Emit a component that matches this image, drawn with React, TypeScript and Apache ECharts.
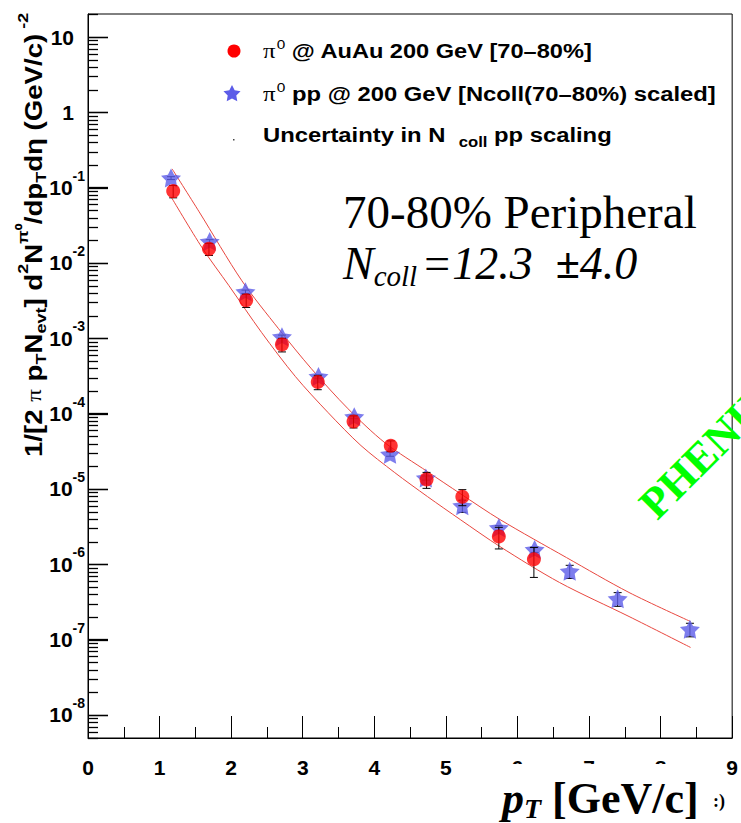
import React, { useEffect, useRef } from 'react';
import * as echarts from 'echarts';

// ---------- data ----------
const ptAuAu = [1.19, 1.69, 2.21, 2.71, 3.21, 3.71, 4.23, 4.73, 5.23, 5.74, 6.23];
const yieldAuAu = [0.09, 0.0154, 3.2e-3, 8.3e-4, 2.63e-4, 7.9e-5, 3.75e-5, 1.34e-5, 7.9e-6, 2.35e-6, 1.17e-6];
const errAuAu = [0.0167, 0.0028, 6.3e-4, 1.7e-4, 5.5e-5, 1.44e-5, 6.0e-6, 3.2e-6, 1.9e-6, 7.5e-7, 5.0e-7];

const ptPP = [1.16, 1.7, 2.2, 2.71, 3.22, 3.72, 4.22, 4.72, 5.23, 5.74, 6.24, 6.73, 7.4, 8.41];
const yieldPP = [0.134, 0.0193, 4.15e-3, 1.05e-3, 3.12e-4, 9.1e-5, 2.9e-5, 1.4e-5, 6.0e-6, 3.05e-6, 1.57e-6, 8.1e-7, 3.49e-7, 1.37e-7];
const errPP = [0.006, 0.0011, 2.2e-4, 5.5e-5, 1.7e-5, 5e-6, 1.8e-6, 9e-7, 1.1e-6, 2.2e-7, 1.3e-7, 1.6e-7, 7.2e-8, 2.8e-8];

const bandUpperPt = [1.175, 1.553, 2.15, 2.663, 3.121, 3.634, 4.147, 4.743, 5.201, 5.756, 6.685, 7.559, 8.419];
const bandUpper = [0.1775, 0.0478, 5.81e-3, 1.34e-3, 3.95e-4, 1.16e-4, 4.12e-5, 1.7e-5, 8.69e-6, 3.93e-6, 1.23e-6, 4.23e-7, 1.74e-7];
const bandLowerPt = [1.161, 1.595, 1.97, 2.427, 2.899, 3.356, 3.814, 4.286, 4.743, 5.201, 5.756, 6.588, 7.559, 8.419];
const bandLower = [0.0755, 0.0159, 4.99e-3, 1.19e-3, 3.1e-4, 1.03e-4, 3.77e-5, 1.65e-5, 7.93e-6, 3.93e-6, 1.72e-6, 5.74e-7, 2.03e-7, 7.88e-8];

const yDecadeExponents = [-8, -7, -6, -5, -4, -3, -2, -1, 0, 1];
const yMinorMultipliers = [2, 3, 4, 5, 6, 7, 8, 9];
const xTickLabels = ['0', '1', '2', '3', '4', '5', '6', '7', '8', '9'];

const legendLabels = [
  '{pi|π}{sup|0}{t| @ AuAu 200 GeV [70–80%]}',
  '{pi|π}{sup|0}{t| pp @ 200 GeV [Ncoll(70–80%) scaled]}',
  '{t|Uncertainty in N  }{sub|coll}{t| pp scaling}',
];

const Y_MIN = 4.95e-9;
const Y_MAX = 20.2;

const STAR_PTS: number[][] = [
  [0, -10], [2.939, -4.045], [9.511, -3.09], [4.755, 1.545], [5.878, 8.09],
  [0, 5], [-5.878, 8.09], [-4.755, 1.545], [-9.511, -3.09], [-2.939, -4.045],
];
const STAR_PATH = 'path://M' + STAR_PTS.map((p) => p.join(',')).join('L') + 'Z';

const SANS = '"Liberation Sans", Arial, sans-serif';
const SERIF = '"Liberation Serif", "Times New Roman", serif';

export default function App() {
  const ref = useRef<HTMLDivElement>(null);

  useEffect(() => {
    document.body.style.margin = '0';
    const chart = echarts.init(ref.current!, null, { renderer: 'svg' });

    const majorVals = yDecadeExponents.map((e) => Math.pow(10, e));
    const minorVals: number[] = [];
    for (let e = -9; e <= 1; e++) {
      yMinorMultipliers.forEach((m) => {
        const v = m * Math.pow(10, e);
        if (v > Y_MIN && v < Y_MAX) minorVals.push(v);
      });
    }
    // [x, value, tick length in px]
    const yTickData = majorVals.map((v) => [0, v, 20]).concat(minorVals.map((v) => [0, v, 10]));

    const errRender = (params: any, api: any) => {
      const x = api.value(0);
      const y = api.value(1);
      const e = api.value(2);
      const top = api.coord([x, y + e]);
      const bot = api.coord([x, Math.max(y - e, Y_MIN)]);
      const st = { stroke: '#000', lineWidth: 1 };
      return {
        type: 'group',
        children: [
          { type: 'line', shape: { x1: top[0], y1: top[1], x2: bot[0], y2: bot[1] }, style: st },
          { type: 'line', shape: { x1: top[0] - 4, y1: top[1], x2: top[0] + 4, y2: top[1] }, style: st },
          { type: 'line', shape: { x1: bot[0] - 4, y1: bot[1], x2: bot[0] + 4, y2: bot[1] }, style: st },
        ],
      };
    };

    // inner ticks of the log axis, placed through the axis scale
    const yTickRender = (params: any, api: any) => {
      const p = api.coord([api.value(0), api.value(1)]);
      const len = api.value(2);
      const y = Math.round(p[1]) + 0.5;
      const x = Math.round(p[0]);
      return {
        type: 'group',
        children: [
          { type: 'line', shape: { x1: x, y1: y, x2: x + len, y2: y }, style: { stroke: '#000', lineWidth: 1.3 } },
        ],
      };
    };

    const bandStyle = { color: '#e8473f', width: 1 };

    const starLegend = STAR_PTS.map((p) => [232 + p[0] * 0.9, 94 + p[1] * 0.9]);

    const legendRich = {
      t: { fontFamily: SANS, fontWeight: 'bold', fontSize: 20, color: '#000' },
      pi: { fontFamily: SERIF, fontSize: 21, color: '#000' },
      sup: { fontFamily: SANS, fontSize: 13, color: '#000', padding: [0, 0, 14, 1] },
      sub: { fontFamily: SANS, fontWeight: 'bold', fontSize: 14, color: '#000', padding: [14, 0, 0, 0] },
    };

    const option: any = {
      animation: false,
      backgroundColor: '#fff',
      grid: {
        left: 88, top: 14, right: 4, bottom: 85,
        show: true, borderColor: '#000', borderWidth: 1,
      },
      xAxis: {
        type: 'value', min: 0, max: 9, interval: 1,
        axisLine: { show: true, lineStyle: { color: '#000', width: 1 } },
        axisTick: { show: true, inside: true, length: 22, lineStyle: { color: '#000' } },
        minorTick: { show: true, splitNumber: 2, length: 11, lineStyle: { color: '#000' } },
        splitLine: { show: false },
        axisLabel: {
          margin: 19, fontSize: 21, fontWeight: 'bold', fontFamily: SANS, color: '#000',
          formatter: (v: number) => xTickLabels[Math.round(v)] ?? '',
        },
      },
      yAxis: {
        type: 'log', logBase: 10, min: Y_MIN, max: Y_MAX,
        axisLine: { show: true, lineStyle: { color: '#000', width: 1 } },
        axisTick: { show: true, inside: true, length: 20, customValues: majorVals, lineStyle: { color: '#000', width: 1.3 } },
        splitLine: { show: false },
        axisLabel: {
          customValues: majorVals,
          margin: 3,
          formatter: (v: number) => {
            const e = Math.round(Math.log10(v));
            if (e === 1) return '{m|10}{pad|}';
            if (e === 0) return '{m|1}{pad|}';
            return '{m|10}{s|' + e + '}';
          },
          rich: {
            m: { fontSize: 21, fontWeight: 'bold', fontFamily: SANS, color: '#000' },
            s: { fontSize: 14, fontWeight: 'bold', fontFamily: SANS, color: '#000', padding: [0, 0, 24, 0] },
            pad: { width: 11 },
          },
        },
      },
      series: [
        {
          name: 'y ticks', type: 'custom', renderItem: yTickRender, z: 20, clip: false,
          encode: { x: 0, y: 1 },
          data: yTickData,
        },
        {
          name: 'Uncertainty in Ncoll pp scaling (upper)', type: 'line', smooth: 0.3,
          symbol: 'none', lineStyle: bandStyle, z: 1,
          data: bandUpperPt.map((x, i) => [x, bandUpper[i]]),
        },
        {
          name: 'Uncertainty in Ncoll pp scaling (lower)', type: 'line', smooth: 0.3,
          symbol: 'none', lineStyle: bandStyle, z: 1,
          data: bandLowerPt.map((x, i) => [x, bandLower[i]]),
        },
        {
          name: 'pp errors', type: 'custom', renderItem: errRender, z: 2,
          encode: { x: 0, y: 1 },
          data: ptPP.map((x, i) => [x, yieldPP[i], errPP[i]]),
        },
        {
          name: 'π0 pp @ 200 GeV [Ncoll(70–80%) scaled]', type: 'scatter', symbol: STAR_PATH,
          symbolSize: [20, 19], itemStyle: { color: 'rgb(92,92,232)' }, z: 3,
          data: ptPP.map((x, i) => [x, yieldPP[i]]),
        },
        {
          name: 'AuAu errors', type: 'custom', renderItem: errRender, z: 4,
          encode: { x: 0, y: 1 },
          data: ptAuAu.map((x, i) => [x, yieldAuAu[i], errAuAu[i]]),
        },
        {
          name: 'π0 @ AuAu 200 GeV [70–80%]', type: 'scatter', symbol: 'circle', symbolSize: 14,
          itemStyle: { color: '#ff0000' }, z: 5,
          data: ptAuAu.map((x, i) => [x, yieldAuAu[i]]),
        },
      ],
      graphic: [
        // legend
        { type: 'circle', shape: { cx: 234, cy: 51, r: 6.5 }, style: { fill: '#ff0000' }, z: 10 },
        { type: 'polygon', shape: { points: starLegend }, style: { fill: 'rgb(92,92,232)' }, z: 10 },
        { type: 'rect', shape: { x: 233, y: 139, width: 1.5, height: 1.5 }, style: { fill: '#444' }, z: 10 },
        { type: 'text', x: 263, y: 51, scaleX: 1.18, z: 10, style: { text: legendLabels[0], rich: legendRich, verticalAlign: 'middle', align: 'left' } },
        { type: 'text', x: 263, y: 94, scaleX: 1.19, z: 10, style: { text: legendLabels[1], rich: legendRich, verticalAlign: 'middle', align: 'left' } },
        { type: 'text', x: 263, y: 135, scaleX: 1.19, z: 10, style: { text: legendLabels[2], rich: legendRich, verticalAlign: 'middle', align: 'left' } },
        // annotation
        {
          type: 'text', x: 343, y: 212, z: 10,
          style: { text: '70-80% Peripheral', font: '47px ' + SERIF, fill: '#000', verticalAlign: 'middle', align: 'left' },
        },
        {
          type: 'text', x: 343, y: 263, z: 10,
          style: {
            text: '{n|N}{sub|coll}{n|=12.3  }{pm|±}{n|4.0}', verticalAlign: 'middle', align: 'left',
            rich: {
              n: { fontFamily: SERIF, fontStyle: 'italic', fontSize: 46, color: '#000' },
              pm: { fontFamily: SERIF, fontWeight: 'bold', fontSize: 44, color: '#000' },
              sub: { fontFamily: SERIF, fontStyle: 'italic', fontSize: 29, color: '#000', padding: [26, 4, 0, 0] },
            },
          },
        },
        // PHENIX watermark
        {
          type: 'text', x: 647, y: 511, rotation: Math.PI / 4, z: 0,
          style: { text: 'PHENIX', font: 'bold 44px ' + SERIF, fill: '#00ff00', verticalAlign: 'middle', align: 'left' },
        },
        // y axis title
        {
          type: 'text', x: 34, y: 457, rotation: Math.PI / 2, scaleX: 1.2, z: 10,
          style: {
            text: '{t|1/[2 }{g|π}{t| p}{sub|T}{t|N}{sub|evt}{t|] d}{sup|2}{t|N}{sup|π⁰}{t|/dp}{sub|T}{t|dη (GeV/c)}{sup| -2}',
            verticalAlign: 'middle', align: 'left',
            rich: {
              t: { fontFamily: SANS, fontWeight: 'bold', fontSize: 23, color: '#000' },
              g: { fontFamily: SERIF, fontSize: 21, color: '#000' },
              sub: { fontFamily: SANS, fontWeight: 'bold', fontSize: 15, color: '#000', padding: [14, 0, 0, 0] },
              sup: { fontFamily: SANS, fontWeight: 'bold', fontSize: 15, color: '#000', padding: [0, 0, 22, 0] },
            },
          },
        },
        // x axis title on its white box
        { type: 'rect', shape: { x: 498, y: 764, width: 222, height: 59 }, style: { fill: '#fff' }, z: 100 },
        {
          type: 'text', x: 502, y: 822, z: 101,
          style: {
            text: '{p|p}{sub|T}{t| [GeV/c]}', verticalAlign: 'bottom', align: 'left',
            rich: {
              p: { fontFamily: SERIF, fontWeight: 'bold', fontStyle: 'italic', fontSize: 44, color: '#000' },
              sub: { fontFamily: SERIF, fontWeight: 'bold', fontStyle: 'italic', fontSize: 28, color: '#000', padding: [20, 0, 0, 0] },
              t: { fontFamily: SERIF, fontWeight: 'bold', fontSize: 44, color: '#000' },
            },
          },
        },
        {
          type: 'text', x: 713, y: 801, z: 101,
          style: { text: ':)', font: 'bold 18px ' + SERIF, fill: '#000', verticalAlign: 'middle', align: 'left' },
        },
      ],
    };

    chart.setOption(option);
    return () => chart.dispose();
  }, []);

  return <div ref={ref} style={{ width: 741, height: 823 }} />;
}
